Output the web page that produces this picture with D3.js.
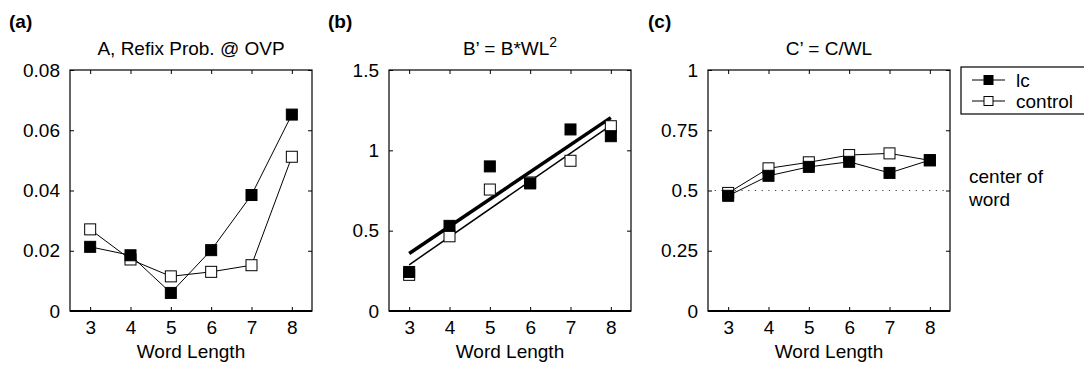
<!DOCTYPE html>
<html>
<head>
<meta charset="utf-8">
<script src="https://cdn.jsdelivr.net/npm/d3@7"></script>
<style>
  body { margin: 0; background: #fff; }
  text { font-family: "Liberation Sans", Arial, Helvetica, sans-serif; fill: #000; }
</style>
</head>
<body>
<script>
// data
var wordLengths = [3, 4, 5, 6, 7, 8];

var refixLc      = [0.0213, 0.0185, 0.0060, 0.0202, 0.0385, 0.0652];
var refixControl = [0.0271, 0.0171, 0.0115, 0.0130, 0.0152, 0.0512];

var bPrimeLc      = [0.243, 0.530, 0.900, 0.794, 1.130, 1.088];
var bPrimeControl = [0.225, 0.465, 0.756, 0.800, 0.935, 1.150];

var cPrimeLc      = [0.478, 0.561, 0.598, 0.619, 0.573, 0.626];
var cPrimeControl = [0.490, 0.592, 0.617, 0.647, 0.654, 0.625];

var refixTicks  = [0, 0.02, 0.04, 0.06, 0.08];
var refixLabels = ["0", "0.02", "0.04", "0.06", "0.08"];
var bTicks      = [0, 0.5, 1, 1.5];
var bLabels     = ["0", "0.5", "1", "1.5"];
var cTicks      = [0, 0.25, 0.5, 0.75, 1];
var cLabels     = ["0", "0.25", "0.5", "0.75", "1"];

var seriesNames = ["lc", "control"];

// page size
var svgWidth = 1084;
var svgHeight = 367;

var plotTop = 70;
var plotWidth = 242;
var plotHeight = 241;
var fontSize = 19;
var markerSize = 11;
var tickLen = 4;

var svg = d3.select("body")
    .append("svg")
    .attr("width", svgWidth)
    .attr("height", svgHeight);

// least squares line through the points
function fitLine(xs, ys) {
    var mx = d3.mean(xs), my = d3.mean(ys);
    var sxy = d3.sum(xs, (x, i) => (x - mx) * (ys[i] - my));
    var sxx = d3.sum(xs, x => (x - mx) * (x - mx));
    var slope = sxy / sxx;
    return x => my + slope * (x - mx);
}

function drawPanel(opt) {
    var g = svg.append("g")
        .attr("transform", `translate(${opt.left}, ${plotTop})`);

    var x = d3.scaleLinear().domain([2.5, 8.5]).range([0, plotWidth]);
    var y = d3.scaleLinear().domain(opt.domain).range([plotHeight, 0]);

    // panel letter and title
    svg.append("text")
        .attr("x", opt.letterX)
        .attr("y", 28)
        .attr("font-size", fontSize + "px")
        .attr("font-weight", "bold")
        .text(opt.letter);

    var title = g.append("text")
        .attr("x", plotWidth / 2)
        .attr("y", -15)
        .attr("text-anchor", "middle")
        .attr("font-size", fontSize + "px")
        .text(opt.title);
    if (opt.sup) {
        title.append("tspan")
            .attr("dy", -8)
            .attr("font-size", "14px")
            .text(opt.sup);
    }

    // axes: ticks pointing inward on all four sides
    var bottom = d3.axisBottom(x).tickValues(wordLengths).tickSize(-tickLen).tickPadding(10)
        .tickFormat(d3.format("d"));
    var top = d3.axisTop(x).tickValues(wordLengths).tickSize(-tickLen).tickFormat("");
    var left = d3.axisLeft(y).tickValues(opt.ticks).tickSize(-tickLen).tickPadding(10)
        .tickFormat((d, i) => opt.labels[i]);
    var right = d3.axisRight(y).tickValues(opt.ticks).tickSize(-tickLen).tickFormat("");

    g.append("g").attr("transform", `translate(0, ${plotHeight})`).call(bottom);
    g.append("g").call(top);
    g.append("g").call(left);
    g.append("g").attr("transform", `translate(${plotWidth}, 0)`).call(right);

    g.selectAll(".domain").remove();
    g.selectAll(".tick line").attr("stroke", "#000");
    g.selectAll(".tick text")
        .attr("font-size", fontSize + "px")
        .attr("font-family", null)
        .attr("fill", "#000");

    g.append("rect")
        .attr("width", plotWidth)
        .attr("height", plotHeight)
        .attr("fill", "none")
        .attr("stroke", "#000")
        .attr("stroke-width", 1.2);
    g.append("line")
        .attr("x1", 0).attr("x2", plotWidth)
        .attr("y1", plotHeight).attr("y2", plotHeight)
        .attr("stroke", "#000")
        .attr("stroke-width", 2);

    g.append("text")
        .attr("x", plotWidth / 2)
        .attr("y", plotHeight + 47)
        .attr("text-anchor", "middle")
        .attr("font-size", fontSize + "px")
        .text("Word Length");

    if (opt.refLine != null) {
        g.append("line")
            .attr("x1", 0).attr("x2", plotWidth)
            .attr("y1", y(opt.refLine)).attr("y2", y(opt.refLine))
            .attr("stroke", "#444")
            .attr("stroke-width", 1.2)
            .attr("stroke-dasharray", "1.2,5.5");
    }

    var series = [
        { values: opt.control, fill: "#fff", width: 1.5 },
        { values: opt.lc, fill: "#000", width: 3.5 }
    ];

    series.forEach(s => {
        if (opt.fit) {
            var f = fitLine(wordLengths, s.values);
            g.append("line")
                .attr("x1", x(3)).attr("y1", y(f(3)))
                .attr("x2", x(8)).attr("y2", y(f(8)))
                .attr("stroke", "#000")
                .attr("stroke-width", s.width);
        } else {
            var line = d3.line()
                .x((d, i) => x(wordLengths[i]))
                .y(d => y(d));
            g.append("path")
                .datum(s.values)
                .attr("d", line)
                .attr("fill", "none")
                .attr("stroke", "#000")
                .attr("stroke-width", 1);
        }
    });

    series.forEach(s => {
        g.selectAll(null)
            .data(s.values)
            .enter()
            .append("rect")
            .attr("x", (d, i) => x(wordLengths[i]) - markerSize / 2)
            .attr("y", d => y(d) - markerSize / 2)
            .attr("width", markerSize)
            .attr("height", markerSize)
            .attr("fill", s.fill)
            .attr("stroke", "#000")
            .attr("stroke-width", 1);
    });

    return g;
}

drawPanel({
    left: 70, letter: "(a)", letterX: 9,
    title: "A, Refix Prob. @ OVP",
    domain: [0, 0.08], ticks: refixTicks, labels: refixLabels,
    lc: refixLc, control: refixControl
});

drawPanel({
    left: 389, letter: "(b)", letterX: 328,
    title: "B\u2019 = B*WL", sup: "2",
    domain: [0, 1.5], ticks: bTicks, labels: bLabels,
    lc: bPrimeLc, control: bPrimeControl, fit: true
});

drawPanel({
    left: 708, letter: "(c)", letterX: 648,
    title: "C\u2019 = C/WL",
    domain: [0, 1], ticks: cTicks, labels: cLabels,
    lc: cPrimeLc, control: cPrimeControl, refLine: 0.5
});

// legend
var legend = svg.append("g").attr("transform", "translate(961, 67)");
legend.append("rect")
    .attr("width", 140)
    .attr("height", 47)
    .attr("fill", "#fff")
    .attr("stroke", "#000")
    .attr("stroke-width", 1.2);

seriesNames.forEach((name, i) => {
    var row = legend.append("g").attr("transform", `translate(0, ${13 + i * 21})`);
    row.append("line")
        .attr("x1", 11).attr("x2", 44)
        .attr("stroke", "#000");
    row.append("rect")
        .attr("x", 27.5 - (markerSize - 2) / 2)
        .attr("y", -(markerSize - 2) / 2)
        .attr("width", markerSize - 2)
        .attr("height", markerSize - 2)
        .attr("fill", i === 0 ? "#000" : "#fff")
        .attr("stroke", "#000");
    row.append("text")
        .attr("x", 55)
        .attr("y", 7)
        .attr("font-size", fontSize + "px")
        .text(name);
});

svg.append("text")
    .attr("x", 969)
    .attr("y", 183)
    .attr("font-size", fontSize + "px")
    .text("center of");
svg.append("text")
    .attr("x", 969)
    .attr("y", 206)
    .attr("font-size", fontSize + "px")
    .text("word");
</script>
</body>
</html>
